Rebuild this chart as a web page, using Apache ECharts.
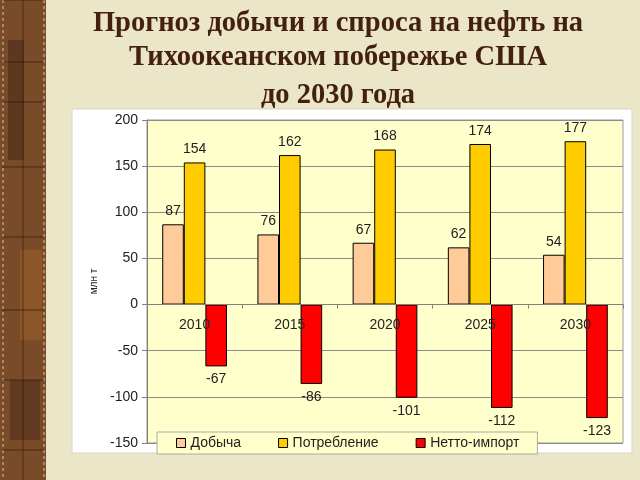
<!DOCTYPE html>
<html>
<head>
<meta charset="utf-8">
<script src="https://cdn.jsdelivr.net/npm/echarts@6/dist/echarts.min.js"></script>
<style>
html,body{margin:0;padding:0;background:#ECE6C9;}
#c{width:640px;height:480px;}
</style>
</head>
<body>
<div id="c"></div>
<script>
const categories = ['2010', '2015', '2020', '2025', '2030'];
const production = [87, 76, 67, 62, 54];
const consumption = [154, 162, 168, 174, 177];
const netImport = [-67, -86, -101, -112, -123];
const seriesNames = ['Добыча', 'Потребление', 'Нетто-импорт'];
const titleLines = ['Прогноз добычи и спроса на нефть на', 'Тихоокеанском побережье США', 'до 2030 года'];
const yAxisName = 'млн т';
const yMin = -150, yMax = 200, yStep = 50;

const gridTop = 120, gridBottom = 37, H = 480;
const plotH = H - gridTop - gridBottom;
// move the category axis up to the zero line (labels included)
const xOffset = -(plotH * (0 - yMin) / (yMax - yMin));

const chart = echarts.init(document.getElementById('c'), null, {renderer: 'canvas'});

const stripLines = [];
[0, 62, 102, 167, 237, 310, 380, 450].forEach(y => {
  stripLines.push({type: 'line', shape: {x1: 2, y1: y, x2: 44, y2: y}, style: {stroke: 'rgba(30,15,5,0.55)', lineWidth: 1}, z: 2});
});

const FONT = 'Liberation Sans, Arial, sans-serif';
const labelStyle = {color: '#222', fontFamily: FONT, fontSize: 14};
const titleY = [24, 58, 96];

chart.setOption({
  backgroundColor: '#ECE6C9',
  animation: false,
  graphic: [
    {type: 'rect', shape: {x: 0, y: 0, width: 46, height: 480}, style: {fill: '#7a4b28'}, z: 1},
    {type: 'rect', shape: {x: 8, y: 40, width: 16, height: 120}, style: {fill: 'rgba(60,30,20,0.45)'}, z: 1},
    {type: 'rect', shape: {x: 20, y: 250, width: 22, height: 90}, style: {fill: 'rgba(160,100,40,0.45)'}, z: 1},
    {type: 'rect', shape: {x: 10, y: 380, width: 30, height: 60}, style: {fill: 'rgba(60,30,20,0.4)'}, z: 1},
    {type: 'line', shape: {x1: 3, y1: 0, x2: 3, y2: 480}, style: {stroke: '#d9c9a3', lineWidth: 1, lineDash: [3, 3]}, z: 2},
    {type: 'line', shape: {x1: 44, y1: 0, x2: 44, y2: 480}, style: {stroke: '#d9c9a3', lineWidth: 1, lineDash: [3, 3]}, z: 2},
    {type: 'line', shape: {x1: 23, y1: 0, x2: 23, y2: 480}, style: {stroke: 'rgba(30,15,5,0.5)', lineWidth: 1}, z: 2},
    ...stripLines,
    {type: 'rect', shape: {x: 72, y: 109, width: 560, height: 344}, style: {fill: '#ffffff', stroke: '#d8d4c4', lineWidth: 1}, z: -10},
    ...titleLines.map((t, i) => ({
      type: 'text', x: 338, y: titleY[i],
      style: {text: t, fill: '#43200f', font: 'bold 28.5px "Liberation Serif", "Times New Roman", serif', textAlign: 'center', textVerticalAlign: 'middle'},
      z: 5
    }))
  ],
  grid: {left: 147, right: 17, top: gridTop, bottom: gridBottom, show: true, backgroundColor: '#FFFFCC', borderColor: '#999999', borderWidth: 1},
  legend: {
    data: seriesNames,
    left: 157, top: 432,
    padding: [4, 18, 4, 19],
    icon: 'rect',
    itemWidth: 9, itemHeight: 9, itemGap: 37,
    backgroundColor: '#FFFFCC', borderColor: '#aaaaaa', borderWidth: 1,
    textStyle: {color: '#222', fontFamily: FONT, fontSize: 14},
    itemStyle: {borderColor: '#000', borderWidth: 1},
    z: 10
  },
  xAxis: {
    type: 'category', data: categories,
    offset: xOffset,
    z: 5,
    axisLine: {onZero: false, lineStyle: {color: '#808080'}},
    axisTick: {show: true, length: 4, lineStyle: {color: '#808080'}},
    axisLabel: {margin: 14, ...labelStyle}
  },
  yAxis: {
    type: 'value', min: yMin, max: yMax, interval: yStep,
    name: yAxisName, nameLocation: 'middle', nameGap: 47, nameRotate: 90,
    nameTextStyle: {color: '#222', fontSize: 10, fontFamily: FONT},
    axisLine: {show: true, lineStyle: {color: '#808080'}},
    axisTick: {show: true, length: 5, lineStyle: {color: '#808080'}},
    axisLabel: {margin: 9, ...labelStyle},
    splitLine: {lineStyle: {color: '#8c8c8c', width: 1}}
  },
  series: [
    {name: seriesNames[0], type: 'bar', data: production, barGap: '0%', barCategoryGap: '32%',
     itemStyle: {color: '#FFCC99', borderColor: '#000', borderWidth: 1},
     label: {show: true, position: 'top', distance: 6, ...labelStyle}},
    {name: seriesNames[1], type: 'bar', data: consumption,
     itemStyle: {color: '#FFCC00', borderColor: '#000', borderWidth: 1},
     label: {show: true, position: 'top', distance: 6, ...labelStyle}},
    {name: seriesNames[2], type: 'bar', data: netImport,
     itemStyle: {color: '#FF0000', borderColor: '#000', borderWidth: 1},
     label: {show: true, position: 'bottom', distance: 6, ...labelStyle}}
  ]
});
</script>
</body>
</html>
